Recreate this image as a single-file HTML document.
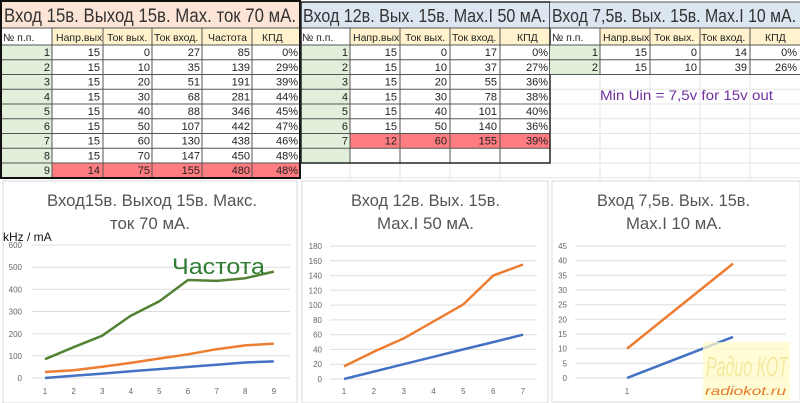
<!DOCTYPE html>
<html><head><meta charset="utf-8"><style>
body{margin:0;background:#fff}
svg{display:block;font-family:"Liberation Sans","DejaVu Sans",sans-serif}
</style></head><body>
<svg width="800" height="403" viewBox="0 0 800 403" xmlns="http://www.w3.org/2000/svg">
<rect width="800" height="403" fill="#fff"/>
<g stroke="#e4e4e4" stroke-width="1">
<line x1="550" y1="74.5" x2="800" y2="74.5"/><line x1="550" y1="89.25" x2="800" y2="89.25"/><line x1="550" y1="104" x2="800" y2="104"/><line x1="550" y1="118.75" x2="800" y2="118.75"/><line x1="550" y1="133.5" x2="800" y2="133.5"/><line x1="550" y1="148.25" x2="800" y2="148.25"/><line x1="300" y1="163" x2="800" y2="163"/><line x1="300" y1="177.75" x2="800" y2="177.75"/>
<line x1="600" y1="74" x2="600" y2="180"/><line x1="650" y1="74" x2="650" y2="180"/><line x1="700" y1="74" x2="700" y2="180"/><line x1="750" y1="74" x2="750" y2="180"/>
<line x1="350" y1="163" x2="350" y2="180"/><line x1="400" y1="163" x2="400" y2="180"/><line x1="450" y1="163" x2="450" y2="180"/><line x1="500" y1="163" x2="500" y2="180"/>
</g>

<!-- TABLE 1 -->
<rect x="0" y="0" width="300" height="28" fill="#fce4d6"/>
<text x="4" y="22" font-size="19" fill="#333" textLength="292" lengthAdjust="spacingAndGlyphs">Вход 15в. Выход 15в. Мах. ток 70 мА.</text>
<rect x="52" y="28" width="248" height="17" fill="#fff2cc"/>
<rect x="0" y="45" width="52" height="133" fill="#e2efda"/>
<rect x="52" y="163" width="248" height="15" fill="#ff7c80"/>
<g stroke="#555" stroke-width="1" fill="none">
<line x1="0" y1="28" x2="300" y2="28"/><line x1="0" y1="45" x2="300" y2="45"/>
<line x1="0" y1="59.75" x2="300" y2="59.75"/><line x1="0" y1="74.5" x2="300" y2="74.5"/><line x1="0" y1="89.25" x2="300" y2="89.25"/><line x1="0" y1="104" x2="300" y2="104"/><line x1="0" y1="118.75" x2="300" y2="118.75"/><line x1="0" y1="133.5" x2="300" y2="133.5"/><line x1="0" y1="148.25" x2="300" y2="148.25"/><line x1="0" y1="163" x2="300" y2="163"/>
<line x1="52" y1="28" x2="52" y2="178"/><line x1="103" y1="28" x2="103" y2="178"/><line x1="152" y1="28" x2="152" y2="178"/><line x1="202" y1="28" x2="202" y2="178"/><line x1="252" y1="28" x2="252" y2="178"/>
</g>
<rect x="1" y="1" width="299" height="177" fill="none" stroke="#111" stroke-width="2"/>
<g font-size="10.5" fill="#222">
<text x="3" y="41">№ п.п.</text>
<text x="56" y="41">Напр.вых</text><text x="107" y="41">Ток вых.</text><text x="154" y="41">Ток вход.</text><text x="208" y="41">Частота</text><text x="262" y="41">КПД</text>
</g>
<g font-size="11" fill="#222" text-anchor="end">
<text x="50" y="56">1</text><text x="100" y="56">15</text><text x="150" y="56">0</text><text x="200" y="56">27</text><text x="250" y="56">85</text><text x="298" y="56">0%</text>
<text x="50" y="70.75">2</text><text x="100" y="70.75">15</text><text x="150" y="70.75">10</text><text x="200" y="70.75">35</text><text x="250" y="70.75">139</text><text x="298" y="70.75">29%</text>
<text x="50" y="85.5">3</text><text x="100" y="85.5">15</text><text x="150" y="85.5">20</text><text x="200" y="85.5">51</text><text x="250" y="85.5">191</text><text x="298" y="85.5">39%</text>
<text x="50" y="100.25">4</text><text x="100" y="100.25">15</text><text x="150" y="100.25">30</text><text x="200" y="100.25">68</text><text x="250" y="100.25">281</text><text x="298" y="100.25">44%</text>
<text x="50" y="115">5</text><text x="100" y="115">15</text><text x="150" y="115">40</text><text x="200" y="115">88</text><text x="250" y="115">346</text><text x="298" y="115">45%</text>
<text x="50" y="129.75">6</text><text x="100" y="129.75">15</text><text x="150" y="129.75">50</text><text x="200" y="129.75">107</text><text x="250" y="129.75">442</text><text x="298" y="129.75">47%</text>
<text x="50" y="144.5">7</text><text x="100" y="144.5">15</text><text x="150" y="144.5">60</text><text x="200" y="144.5">130</text><text x="250" y="144.5">438</text><text x="298" y="144.5">46%</text>
<text x="50" y="159.25">8</text><text x="100" y="159.25">15</text><text x="150" y="159.25">70</text><text x="200" y="159.25">147</text><text x="250" y="159.25">450</text><text x="298" y="159.25">48%</text>
<text x="50" y="174">9</text><text x="100" y="174">14</text><text x="150" y="174">75</text><text x="200" y="174">155</text><text x="250" y="174">480</text><text x="298" y="174">48%</text>
</g>

<!-- TABLE 2 -->
<rect x="301" y="2" width="248" height="26" fill="#dce6f1"/>
<text x="303" y="22" font-size="18" fill="#333" textLength="243" lengthAdjust="spacingAndGlyphs">Вход 12в. Вых. 15в. Max.I 50 мА.</text>
<rect x="350" y="28" width="200" height="17" fill="#fff2cc"/>
<rect x="301" y="45" width="49" height="118" fill="#e2efda"/>
<rect x="350" y="133.5" width="200" height="14.75" fill="#ff7c80"/>
<g stroke="#555" stroke-width="1">
<line x1="300" y1="28" x2="550" y2="28"/><line x1="300" y1="45" x2="550" y2="45"/>
<line x1="300" y1="59.75" x2="550" y2="59.75"/><line x1="300" y1="74.5" x2="550" y2="74.5"/><line x1="300" y1="89.25" x2="550" y2="89.25"/><line x1="300" y1="104" x2="550" y2="104"/><line x1="300" y1="118.75" x2="550" y2="118.75"/><line x1="300" y1="133.5" x2="550" y2="133.5"/><line x1="300" y1="148.25" x2="550" y2="148.25"/>
<line x1="350" y1="28" x2="350" y2="163"/><line x1="400" y1="28" x2="400" y2="163"/><line x1="450" y1="28" x2="450" y2="163"/><line x1="500" y1="28" x2="500" y2="163"/>
</g>
<rect x="301" y="2" width="249" height="161" fill="none" stroke="#222" stroke-width="1.5"/>
<g font-size="10.5" fill="#222">
<text x="302" y="41">№ п.п.</text>
<text x="353" y="41">Напр.вых</text><text x="405" y="41">Ток вых.</text><text x="452" y="41">Ток вход.</text><text x="517" y="41">КПД</text>
</g>
<g font-size="11" fill="#222" text-anchor="end">
<text x="348" y="56">1</text><text x="397" y="56">15</text><text x="447" y="56">0</text><text x="497" y="56">17</text><text x="548" y="56">0%</text>
<text x="348" y="70.75">2</text><text x="397" y="70.75">15</text><text x="447" y="70.75">10</text><text x="497" y="70.75">37</text><text x="548" y="70.75">27%</text>
<text x="348" y="85.5">3</text><text x="397" y="85.5">15</text><text x="447" y="85.5">20</text><text x="497" y="85.5">55</text><text x="548" y="85.5">36%</text>
<text x="348" y="100.25">4</text><text x="397" y="100.25">15</text><text x="447" y="100.25">30</text><text x="497" y="100.25">78</text><text x="548" y="100.25">38%</text>
<text x="348" y="115">5</text><text x="397" y="115">15</text><text x="447" y="115">40</text><text x="497" y="115">101</text><text x="548" y="115">40%</text>
<text x="348" y="129.75">6</text><text x="397" y="129.75">15</text><text x="447" y="129.75">50</text><text x="497" y="129.75">140</text><text x="548" y="129.75">36%</text>
<text x="348" y="144.5">7</text><text x="397" y="144.5">12</text><text x="447" y="144.5">60</text><text x="497" y="144.5">155</text><text x="548" y="144.5">39%</text>
</g>

<!-- TABLE 3 -->
<rect x="550" y="2" width="250" height="26" fill="#dce6f1"/>
<text x="552" y="22" font-size="18" fill="#333" textLength="244" lengthAdjust="spacingAndGlyphs">Вход 7,5в. Вых. 15в. Max.I 10 мА.</text>
<rect x="600" y="28" width="200" height="17" fill="#fff2cc"/>
<rect x="550" y="45" width="50" height="29.5" fill="#e2efda"/>
<g stroke="#555" stroke-width="1">
<line x1="550" y1="28" x2="800" y2="28"/><line x1="550" y1="45" x2="800" y2="45"/><line x1="550" y1="59.75" x2="800" y2="59.75"/><line x1="550" y1="74.5" x2="800" y2="74.5"/>
<line x1="600" y1="28" x2="600" y2="74.5"/><line x1="650" y1="28" x2="650" y2="74.5"/><line x1="700" y1="28" x2="700" y2="74.5"/><line x1="750" y1="28" x2="750" y2="74.5"/>
</g>
<line x1="550" y1="2" x2="800" y2="2" stroke="#555"/>
<g font-size="10.5" fill="#222">
<text x="552" y="41">№ п.п.</text>
<text x="603" y="41">Напр.вых</text><text x="654" y="41">Ток вых.</text><text x="701" y="41">Ток вход.</text><text x="765" y="41">КПД</text>
</g>
<g font-size="11" fill="#222" text-anchor="end">
<text x="598" y="56">1</text><text x="647" y="56">15</text><text x="697" y="56">0</text><text x="747" y="56">14</text><text x="797" y="56">0%</text>
<text x="598" y="70.75">2</text><text x="647" y="70.75">15</text><text x="697" y="70.75">10</text><text x="747" y="70.75">39</text><text x="797" y="70.75">26%</text>
</g>
<text x="600" y="100" font-size="13.5" fill="#7030a0" textLength="173" lengthAdjust="spacingAndGlyphs">Min Uin = 7,5v for 15v out</text>

<!-- CHART PANELS -->
<rect x="3" y="181" width="294" height="222" fill="#fff" stroke="#dadada"/>
<rect x="302" y="181" width="246" height="222" fill="#fff" stroke="#dadada"/>
<rect x="552" y="181" width="248" height="221" fill="#fff" stroke="#dadada"/>

<!-- CHART 1 -->
<g font-size="17" fill="#555">
<text x="47" y="206" textLength="210" lengthAdjust="spacingAndGlyphs">Вход15в. Выход 15в. Макс.</text>
<text x="110" y="229" textLength="80" lengthAdjust="spacingAndGlyphs">ток 70 мА.</text>
</g>
<text x="3" y="241" font-size="12" fill="#111">kHz / mA</text>
<g stroke="#dedede"><line x1="32" y1="378" x2="290" y2="378"/><line x1="32" y1="355.8" x2="290" y2="355.8"/><line x1="32" y1="333.7" x2="290" y2="333.7"/><line x1="32" y1="311.5" x2="290" y2="311.5"/><line x1="32" y1="289.3" x2="290" y2="289.3"/><line x1="32" y1="267.2" x2="290" y2="267.2"/><line x1="32" y1="245" x2="290" y2="245"/></g>
<g font-size="8" fill="#666" text-anchor="end">
<text x="22" y="381">0</text><text x="22" y="359">100</text><text x="22" y="337">200</text><text x="22" y="314.5">300</text><text x="22" y="292.5">400</text><text x="22" y="270">500</text><text x="22" y="248">600</text>
</g>
<g font-size="8" fill="#666" text-anchor="middle">
<text x="45" y="394">1</text><text x="73.6" y="394">2</text><text x="102.2" y="394">3</text><text x="130.8" y="394">4</text><text x="159.4" y="394">5</text><text x="188" y="394">6</text><text x="216.6" y="394">7</text><text x="245.2" y="394">8</text><text x="273.8" y="394">9</text>
</g>
<g fill="none" stroke-width="2.5" stroke-linejoin="round">
<polyline stroke="#548235" points="45,359.2 73.6,347.2 102.2,335.7 130.8,315.7 159.4,301.3 188,280 216.6,280.9 245.2,278.2 273.8,271.6"/>
<polyline stroke="#ed7d31" points="45,372 73.6,370.2 102.2,366.7 130.8,362.9 159.4,358.5 188,354.3 216.6,349.2 245.2,345.4 273.8,343.6"/>
<polyline stroke="#4472c4" points="45,378 73.6,375.8 102.2,373.6 130.8,371.3 159.4,369.1 188,366.9 216.6,364.7 245.2,362.5 273.8,361.4"/>
</g>
<text x="172" y="274" font-size="22" fill="#2e7d32" textLength="93" lengthAdjust="spacingAndGlyphs">Частота</text>

<!-- CHART 2 -->
<g font-size="17" fill="#555">
<text x="351" y="206" textLength="149" lengthAdjust="spacingAndGlyphs">Вход 12в. Вых. 15в.</text>
<text x="377" y="229" textLength="97" lengthAdjust="spacingAndGlyphs">Max.I 50 мА.</text>
</g>
<g stroke="#dedede"><line x1="330" y1="379" x2="537" y2="379"/><line x1="330" y1="364.2" x2="537" y2="364.2"/><line x1="330" y1="349.4" x2="537" y2="349.4"/><line x1="330" y1="334.7" x2="537" y2="334.7"/><line x1="330" y1="319.9" x2="537" y2="319.9"/><line x1="330" y1="305.1" x2="537" y2="305.1"/><line x1="330" y1="290.3" x2="537" y2="290.3"/><line x1="330" y1="275.6" x2="537" y2="275.6"/><line x1="330" y1="260.8" x2="537" y2="260.8"/><line x1="330" y1="246" x2="537" y2="246"/></g>
<g font-size="8" fill="#666" text-anchor="end">
<text x="322" y="382">0</text><text x="322" y="367">20</text><text x="322" y="352.4">40</text><text x="322" y="337.7">60</text><text x="322" y="323">80</text><text x="322" y="308">100</text><text x="322" y="293.3">120</text><text x="322" y="278.6">140</text><text x="322" y="263.8">160</text><text x="322" y="249">180</text>
</g>
<g font-size="8" fill="#666" text-anchor="middle">
<text x="344" y="394">1</text><text x="373.8" y="394">2</text><text x="403.7" y="394">3</text><text x="433.5" y="394">4</text><text x="463.3" y="394">5</text><text x="493.2" y="394">6</text><text x="523" y="394">7</text>
</g>
<g fill="none" stroke-width="2.5" stroke-linejoin="round">
<polyline stroke="#ed7d31" points="344,366.4 373.8,351.7 403.7,338.4 433.5,321.4 463.3,304.4 493.2,275.6 523,264.5"/>
<polyline stroke="#4472c4" points="344,379 373.8,371.6 403.7,364.2 433.5,356.8 463.3,349.4 493.2,342.1 523,334.7"/>
</g>

<!-- CHART 3 -->
<g font-size="17" fill="#555">
<text x="597" y="206" textLength="153" lengthAdjust="spacingAndGlyphs">Вход 7,5в. Вых. 15в.</text>
<text x="626" y="229" textLength="96" lengthAdjust="spacingAndGlyphs">Max.I 10 мА.</text>
</g>
<g stroke="#dedede"><line x1="575" y1="378" x2="786" y2="378"/><line x1="575" y1="363.3" x2="786" y2="363.3"/><line x1="575" y1="348.7" x2="786" y2="348.7"/><line x1="575" y1="334" x2="786" y2="334"/><line x1="575" y1="319.3" x2="786" y2="319.3"/><line x1="575" y1="304.7" x2="786" y2="304.7"/><line x1="575" y1="290" x2="786" y2="290"/><line x1="575" y1="275.3" x2="786" y2="275.3"/><line x1="575" y1="260.7" x2="786" y2="260.7"/><line x1="575" y1="246" x2="786" y2="246"/></g>
<g font-size="8" fill="#666" text-anchor="end">
<text x="567" y="381">0</text><text x="567" y="366.3">5</text><text x="567" y="351.7">10</text><text x="567" y="337">15</text><text x="567" y="322.3">20</text><text x="567" y="307.7">25</text><text x="567" y="293">30</text><text x="567" y="278.3">35</text><text x="567" y="263.7">40</text><text x="567" y="249">45</text>
</g>
<g font-size="8" fill="#666" text-anchor="middle"><text x="627" y="394">1</text><text x="733" y="394">2</text></g>
<g fill="none" stroke-width="2.5">
<polyline stroke="#ed7d31" points="627,348.7 733,263.6"/>
<polyline stroke="#4472c4" points="627,378 733,336.9"/>
</g>
<rect x="703" y="342" width="87" height="58" fill="#fffbc8" opacity="0.75"/>
<text x="706" y="376" font-size="28" fill="#f3e9a0" font-style="italic" textLength="82" lengthAdjust="spacingAndGlyphs">Радио КОТ</text>
<text x="705" y="395" font-size="12" fill="#e07a2a" font-style="italic" textLength="81" lengthAdjust="spacingAndGlyphs">radiokot.ru</text>
</svg>
</body></html>
